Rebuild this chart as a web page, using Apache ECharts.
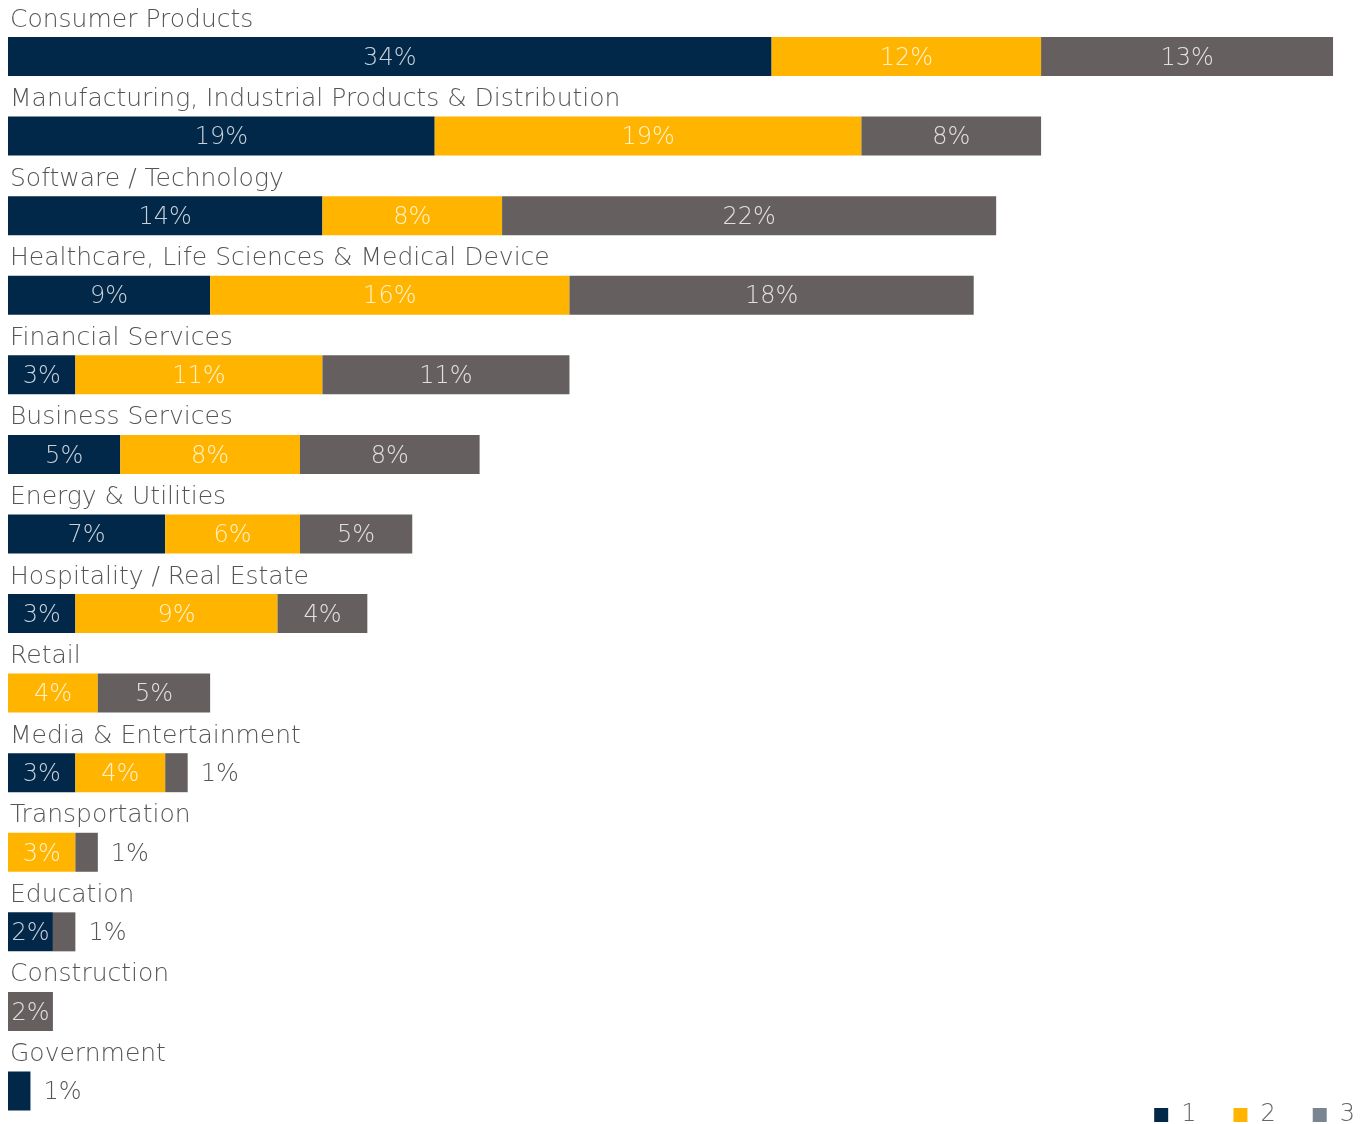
<!DOCTYPE html>
<html>
<head>
<meta charset="utf-8">
<script src="https://cdn.jsdelivr.net/npm/echarts@6/dist/echarts.min.js"></script>
<style>
  html, body { margin: 0; padding: 0; background: #fff; }
  #chart { width: 1372px; height: 1124px; }
</style>
</head>
<body>
<div id="chart"></div>
<script>
// Industry breakdown, three stacked groups per industry (percent)
const categories = [
  'Consumer Products',
  'Manufacturing, Industrial Products & Distribution',
  'Software / Technology',
  'Healthcare, Life Sciences & Medical Device',
  'Financial Services',
  'Business Services',
  'Energy & Utilities',
  'Hospitality / Real Estate',
  'Retail',
  'Media & Entertainment',
  'Transportation',
  'Education',
  'Construction',
  'Government'
];
const group1 = [34, 19, 14, 9, 3, 5, 7, 3, 0, 3, 0, 2, 0, 1];
const group2 = [12, 19, 8, 16, 11, 8, 6, 9, 4, 4, 3, 0, 0, 0];
const group3 = [13, 8, 22, 18, 11, 8, 5, 4, 5, 1, 1, 1, 2, 0];
const seriesNames = ['1', '2', '3'];

const FONT = '"DejaVu Sans", "Open Sans", sans-serif';
const colors = ['#022849', '#FFB400', '#65605F'];
const insideLabelColors = ['#c9d0da', '#fff1cc', '#e2e0df'];

function buildData(values) {
  return values.map(v => {
    if (v <= 1 && v > 0) {
      // too narrow for the label: put it just past the bar end
      return {
        value: v,
        label: { position: 'right', distance: 13, color: '#555' }
      };
    }
    return { value: v };
  });
}

const chart = echarts.init(document.getElementById('chart'), null, { renderer: 'canvas' });

const series = [group1, group2, group3].map((vals, i) => ({
  name: seriesNames[i],
  type: 'bar',
  stack: 'total',
  barWidth: 39,
  itemStyle: { color: colors[i] },
  label: {
    show: true,
    position: 'inside',
    offset: [0, 2],
    color: insideLabelColors[i],
    fontFamily: FONT,
    fontWeight: 200,
    fontSize: 24,
    formatter: p => (p.value > 0 ? p.value + '%' : '')
  },
  data: buildData(vals)
}));

chart.setOption({
  animation: false,
  legend: {
    data: seriesNames.map((n, i) => ({
      name: n,
      itemStyle: { color: i === 2 ? '#7a8591' : colors[i] }
    })),
    right: 12,
    top: 1098,
    icon: 'rect',
    itemWidth: 14,
    itemHeight: 14,
    itemGap: 37,
    textStyle: { fontFamily: FONT, fontWeight: 200, fontSize: 24, color: '#666', padding: [0, 0, 0, 8] }
  },
  grid: { left: 8, top: 56.5, width: 1347.5, height: 1034.5, containLabel: false },
  xAxis: {
    type: 'value',
    min: 0,
    max: 60,
    show: false
  },
  yAxis: {
    type: 'category',
    data: categories,
    inverse: true,
    boundaryGap: false,
    axisLine: { show: false },
    axisTick: { show: false },
    axisLabel: {
      inside: true,
      margin: 2,
      verticalAlign: 'bottom',
      padding: [0, 0, 24, 0],
      color: '#555',
      fontFamily: FONT,
      fontWeight: 200,
      fontSize: 25
    },
    z: 10
  },
  series: series
});
</script>
</body>
</html>
